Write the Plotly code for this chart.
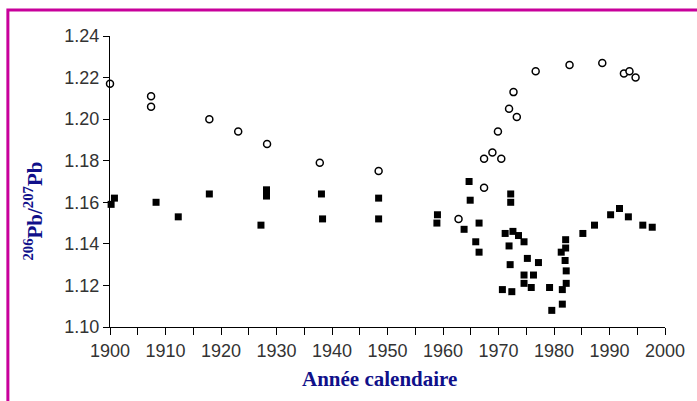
import plotly.graph_objects as go

# Série 1 : cercles ouverts
annees_cercles = [1900.0, 1907.4, 1907.4, 1917.9, 1923.1, 1928.3, 1937.8, 1948.4,
                  1962.8, 1967.4, 1967.4, 1968.9, 1970.5, 1969.9, 1971.9, 1973.3,
                  1972.7, 1976.7, 1982.8, 1988.7, 1992.6, 1993.6, 1994.7]
rapport_cercles = [1.217, 1.211, 1.206, 1.200, 1.194, 1.188, 1.179, 1.175,
                   1.152, 1.167, 1.181, 1.184, 1.181, 1.194, 1.205, 1.201,
                   1.213, 1.223, 1.226, 1.227, 1.222, 1.223, 1.220]

# Série 2 : carrés pleins
annees_carres = [1900.2, 1900.8, 1908.3, 1912.3, 1917.9, 1927.2, 1928.2, 1928.2,
                 1938.1, 1938.3, 1948.4, 1948.4, 1959.0, 1958.9, 1964.7, 1964.9,
                 1963.8, 1966.5, 1965.9, 1966.5, 1972.2, 1972.2, 1971.2, 1972.6,
                 1973.6, 1974.6, 1971.9, 1972.1, 1975.2, 1977.2, 1974.6, 1976.3,
                 1974.6, 1975.9, 1970.7, 1972.4, 1979.2, 1979.6, 1981.5, 1981.5,
                 1982.2, 1982.2, 1982.0, 1981.3, 1982.1, 1982.1, 1985.2, 1987.3,
                 1990.2, 1991.8, 1993.4, 1996.0, 1997.7]
rapport_carres = [1.159, 1.162, 1.160, 1.153, 1.164, 1.149, 1.166, 1.163,
                  1.164, 1.152, 1.162, 1.152, 1.154, 1.150, 1.170, 1.161,
                  1.147, 1.150, 1.141, 1.136, 1.164, 1.160, 1.145, 1.146,
                  1.144, 1.141, 1.139, 1.130, 1.133, 1.131, 1.125, 1.125,
                  1.121, 1.119, 1.118, 1.117, 1.119, 1.108, 1.111, 1.118,
                  1.121, 1.127, 1.132, 1.136, 1.138, 1.142, 1.145, 1.149,
                  1.154, 1.157, 1.153, 1.149, 1.148]

fig = go.Figure()

fig.add_trace(go.Scatter(
    x=annees_carres, y=rapport_carres, mode="markers",
    marker=dict(symbol="square", size=7, color="black", line=dict(width=0)),
    cliponaxis=False, showlegend=False,
))
fig.add_trace(go.Scatter(
    x=annees_cercles, y=rapport_cercles, mode="markers",
    marker=dict(symbol="circle", size=7, color="white",
                line=dict(color="black", width=1.5)),
    cliponaxis=False, showlegend=False,
))

tick_font = dict(family="Liberation Sans, Arial", size=18, color="#333333")
titre_font = dict(family="Liberation Serif, Times New Roman", size=21, color="#10108a")

fig.update_layout(
    width=697, height=401,
    margin=dict(l=110, r=32, t=36, b=74),
    paper_bgcolor="white", plot_bgcolor="white",
    xaxis=dict(
        range=[1900, 2000], dtick=10, tick0=1900,
        showgrid=False, zeroline=False,
        showline=True, linecolor="black", linewidth=1,
        ticks="outside", ticklen=7, tickcolor="black", tickwidth=1,
        minor=dict(dtick=5, ticks="outside", ticklen=7, tickcolor="black"),
        tickfont=tick_font,
    ),
    yaxis=dict(
        range=[1.10, 1.24], dtick=0.02, tick0=1.10, tickformat=".2f",
        showgrid=False, zeroline=False,
        showline=True, linecolor="black", linewidth=1,
        ticks="outside", ticklen=6, tickcolor="black", tickwidth=1,
        tickfont=tick_font,
    ),
    # ticks intérieurs pour que les graduations traversent l'axe
    yaxis2=dict(
        overlaying="y", side="left", range=[1.10, 1.24], dtick=0.02, tick0=1.10,
        showgrid=False, zeroline=False, showline=False,
        ticks="inside", ticklen=5, tickcolor="black", showticklabels=False,
    ),
    annotations=[
        dict(text="<b><sup>206</sup>Pb/<sup>207</sup>Pb</b>",
             xref="paper", yref="paper", x=-0.165, y=0.40,
             textangle=-90, showarrow=False, font=titre_font),
        dict(text="<b>Année calendaire</b>",
             xref="paper", yref="paper", x=0.485, y=-0.18, yanchor="middle",
             showarrow=False, font=titre_font),
    ],
    # cadre magenta (haut et gauche)
    shapes=[dict(
        type="rect", xref="paper", yref="paper",
        x0=-0.184, x1=1.3, y0=-0.5, y1=1.089,
        line=dict(color="#c8009b", width=3),
    )],
)

# la page ne doit pas ajouter de marge autour du graphique
fig.write_html("out.html", config={"displayModeBar": False},
               post_script="document.body.style.margin='0';")
